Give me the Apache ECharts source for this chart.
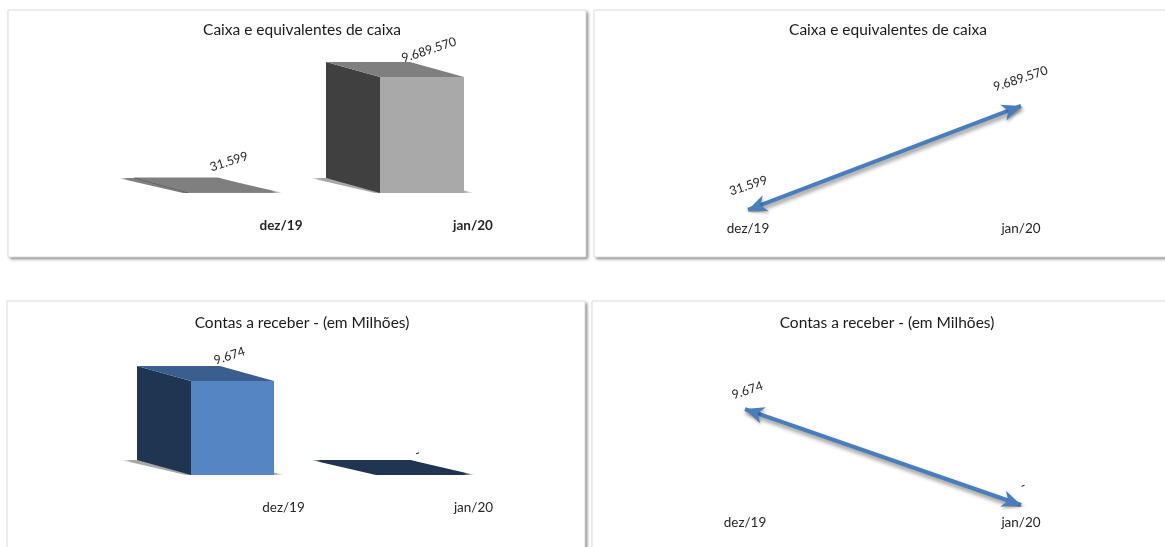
<!DOCTYPE html>
<html>
<head>
<meta charset="utf-8">
<style>html,body{margin:0;padding:0;background:#fff}#c{width:1165px;height:547px}</style>
<script src="https://cdn.jsdelivr.net/npm/echarts@6/dist/echarts.min.js"></script>
</head>
<body>
<div id="c"></div>
<script>
const categories = ['dez/19', 'jan/20'];
const caixaValues = [31599, 9689570];
const contasValues = [9674, 0];
const caixaTitle = 'Caixa e equivalentes de caixa';
const contasTitle = 'Contas a receber - (em Milhões)';
const caixaLabels = ['31.599', '9.689.570'];
const contasLabels = ['9.674', '-'];

const FONT = 'Lato';
const TEXT = '#262626';
const DX = 54, DY = 15;
const ROT = 18 * Math.PI / 180;

const cards = [[8, 10, 578, 247], [594, 10, 600, 247], [7, 301, 578, 270], [592, 301, 600, 270]];
const titles = [[297, 17, caixaTitle], [883, 17, caixaTitle], [297, 310, contasTitle], [882, 310, contasTitle]];

const chart = echarts.init(document.getElementById('c'), null, {renderer: 'canvas'});

function shadowFill(color, alpha) {
  const c = a => echarts.color.modifyAlpha(color, a);
  return new echarts.graphic.LinearGradient(0, 0, 1, 0, [
    {offset: 0, color: c(0)},
    {offset: 0.06, color: c(alpha)},
    {offset: 0.93, color: c(alpha)},
    {offset: 1, color: c(0)}
  ]);
}

function barRenderer(cfg) {
  return function (params, api) {
    const i = params.dataIndex;
    const v = api.value(1);
    const top = api.coord([api.value(0), v]);
    const base = api.coord([api.value(0), 0]);
    const fl = top[0] - cfg.w / 2, fr = top[0] + cfg.w / 2;
    const t = top[1], b = base[1];
    const flat = b - t < 2;
    const poly = (points, fill) => ({type: 'polygon', shape: {points}, style: {fill}});
    const ground = flat ? shadowFill(cfg.flat, 1) : shadowFill('#6e6e6e', 0.6);
    return {
      type: 'group',
      children: [
        poly([[fl - DX - 16, b - DY], [fl - 5, b], [fr + 11, b], [fr - DX, b - DY]], ground),
        poly([[fl - DX, t - DY], [fl, t], [fl, b], [fl - DX, b - DY]], cfg.side),
        poly([[fl, t], [fr, t], [fr, b], [fl, b]], cfg.front),
        poly([[fl - DX, t - DY], [fr - DX, t - DY], [fr, t], [fl, t]], flat ? cfg.flat : cfg.top),
        {
          type: 'text', x: top[0] + cfg.off[i][0], y: t + cfg.off[i][1], rotation: ROT,
          style: {text: cfg.labels[i], fill: TEXT, font: '12.5px ' + FONT, align: 'center', verticalAlign: 'middle'}
        }
      ]
    };
  };
}

function barSeries(idx, values, cfg) {
  return {
    type: 'custom', xAxisIndex: idx, yAxisIndex: idx,
    data: values.map((v, i) => [categories[i], v]),
    encode: {x: 0, y: 1},
    renderItem: barRenderer(cfg)
  };
}

const ARROW = 'path://M0,0 L8,17 L0,12 L-8,17 Z M0,-17 L0,-17 Z';

function lineSeries(idx, values, labels, rot, off) {
  return {
    type: 'line', xAxisIndex: idx, yAxisIndex: idx,
    symbol: ARROW, symbolSize: [17, 38], showAllSymbol: true,
    itemStyle: {color: '#4a7ebb', opacity: 1, shadowBlur: 3, shadowOffsetX: 1, shadowOffsetY: 2, shadowColor: 'rgba(0,0,0,.3)'},
    lineStyle: {color: '#4a7ebb', width: 4, shadowBlur: 4, shadowOffsetX: 1, shadowOffsetY: 3, shadowColor: 'rgba(0,0,0,.45)'},
    data: values.map((v, i) => ({
      value: [categories[i], v],
      symbolRotate: rot[i],
      label: {
        show: true, position: 'inside', rotate: 18, offset: off[i],
        formatter: labels[i], color: TEXT, fontFamily: FONT, fontSize: 12.5
      }
    }))
  };
}

const grids = [
  {left: 134, width: 384, top: 73.3, height: 119.7},
  {left: 611.5, width: 546, top: 102.6, height: 107.7},
  {left: 137.5, width: 380, top: 377.8, height: 97.2},
  {left: 607, width: 552, top: 405.8, height: 99.2}
];
const maxes = [10000000, 10000000, 10000, 10000];
const xLabel = [
  {margin: 26, fontWeight: 'bold', padding: [0, 0, 0, 102]},
  {margin: 11, fontWeight: 'normal'},
  {margin: 26, fontWeight: 'normal', padding: [0, 0, 0, 102]},
  {margin: 11, fontWeight: 'normal'}
];

const cardShapes = c => ({x: c[0], y: c[1], width: c[2], height: c[3]});

chart.setOption({
  animation: false,
  backgroundColor: '#fff',
  title: titles.map(t => ({
    text: t[2], left: t[0], top: t[1], textAlign: 'center',
    textStyle: {fontFamily: FONT, fontSize: 15.5, fontWeight: 'normal', color: '#1a1a1a'}
  })),
  graphic: cards.map(c => ({
    type: 'rect', silent: true, z: -2, shape: cardShapes(c),
    style: {fill: '#fff', shadowBlur: 3, shadowOffsetX: 2, shadowOffsetY: 2, shadowColor: 'rgba(0,0,0,.5)'}
  })).concat(cards.map(c => ({
    type: 'rect', silent: true, z: -1, shape: cardShapes(c),
    style: {fill: 'none', stroke: '#dcdcdc', lineWidth: 1}
  }))),
  grid: grids,
  xAxis: grids.map((g, i) => ({
    type: 'category', gridIndex: i, data: categories,
    axisLine: {show: false}, axisTick: {show: false}, splitLine: {show: false},
    axisLabel: Object.assign({color: TEXT, fontFamily: FONT, fontSize: 13.5, interval: 0}, xLabel[i])
  })),
  yAxis: grids.map((g, i) => ({
    type: 'value', gridIndex: i, min: 0, max: maxes[i], show: false, splitLine: {show: false}
  })),
  series: [
    barSeries(0, caixaValues, {
      w: 84, front: '#a9a9a9', side: '#404040', top: '#7f7f7f', flat: '#7f7f7f',
      labels: caixaLabels, off: [[-1, -31], [7, -27]]
    }),
    lineSeries(1, caixaValues, caixaLabels, [110.85, -69.15], [[8, -23], [8, -26]]),
    barSeries(2, contasValues, {
      w: 83, front: '#5585c2', side: '#1f3552', top: '#3a5f8e', flat: '#1f3552',
      labels: contasLabels, off: [[-3, -25], [-5, -22]]
    }),
    lineSeries(3, contasValues, contasLabels, [70.8, -109.2], [[8, -17], [8, -18]])
  ]
});
</script>
</body>
</html>
